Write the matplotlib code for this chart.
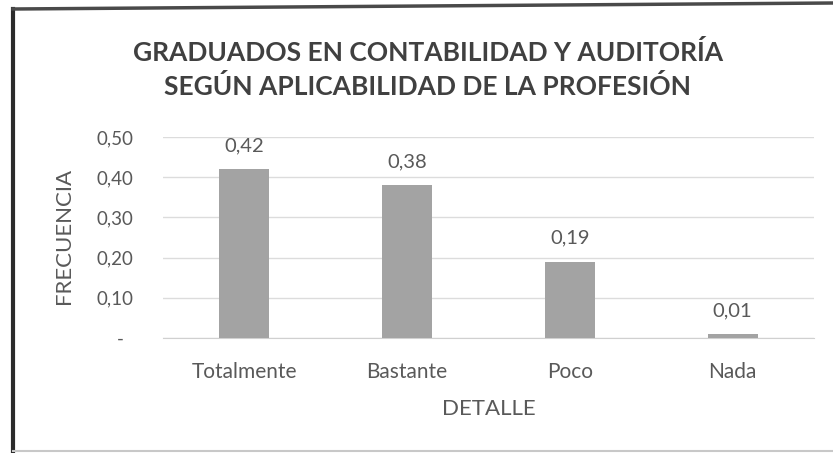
import matplotlib
matplotlib.use('Agg')
import matplotlib.pyplot as plt
from matplotlib.lines import Line2D
from matplotlib.ticker import FixedLocator, FixedFormatter

plt.rcParams['font.family'] = ['Lato', 'DejaVu Sans']

TITLE = 'GRADUADOS EN CONTABILIDAD Y AUDITORÍA\nSEGÚN APLICABILIDAD DE LA PROFESIÓN'
categories = ['Totalmente', 'Bastante', 'Poco', 'Nada']
frecuencia = [0.42, 0.38, 0.19, 0.01]
y_ticks = [0.0, 0.1, 0.2, 0.3, 0.4, 0.5]
y_tick_labels = ['-  ', '0,10', '0,20', '0,30', '0,40', '0,50']

W, H = 833, 453
TEXT = '#595959'

fig = plt.figure(figsize=(W / 100, H / 100), dpi=100)
fig.patch.set_facecolor('white')

# plot area, in pixels of the reference
ax = fig.add_axes([163 / W, 1 - 338 / H, 651 / W, 201 / H])
x = range(len(categories))
bars = ax.bar(x, frecuencia, width=0.307, color='#a3a3a3', zorder=3)

ax.set_xlim(-0.5, len(categories) - 0.5)
ax.set_ylim(0, 0.5)
ax.yaxis.set_major_locator(FixedLocator(y_ticks))
ax.yaxis.set_major_formatter(FixedFormatter(y_tick_labels))
ax.set_xticks(list(x))
ax.set_xticklabels(categories)
ax.tick_params(axis='y', length=0, pad=21.5, labelsize=13.5, labelcolor=TEXT)
ax.tick_params(axis='x', length=0, pad=17, labelsize=15, labelcolor=TEXT)
ax.grid(axis='y', color='#dcdcdc', linewidth=1, zorder=0)
for side in ['top', 'right', 'left']:
    ax.spines[side].set_visible(False)
ax.spines['bottom'].set_color('#d0d0d0')

for rect, v in zip(bars, frecuencia):
    ax.annotate(f'{v:.2f}'.replace('.', ','),
                (rect.get_x() + rect.get_width() / 2, v),
                xytext=(0, 13), textcoords='offset points',
                ha='center', va='baseline', fontsize=14.5, color=TEXT)

ax.set_ylabel('FRECUENCIA', fontsize=16, color=TEXT)
ax.yaxis.set_label_coords(-0.137, 0.51)
ax.set_xlabel('DETALLE', fontsize=16, color=TEXT, va='top')
ax.xaxis.set_label_coords(0.5, -0.305)

# baseline of the second title line
fig.text(428 / W, 1 - 95 / H, TITLE, ha='center', va='baseline',
         fontsize=19, fontweight='bold', color='#404040',
         linespacing=1.45, multialignment='center')

# scanned frame round the chart
fig.add_artist(Line2D([13 / W, 13 / W], [1 - 9 / H, 0], transform=fig.transFigure,
                      color='#2b2b2b', linewidth=3))
fig.add_artist(Line2D([13 / W, 1], [1 - 9 / H, 1 - 3 / H], transform=fig.transFigure,
                      color='#4a4a4a', linewidth=2.5))
fig.add_artist(Line2D([13 / W, 1], [1 - 451 / H, 1 - 451 / H], transform=fig.transFigure,
                      color='#c8c8c8', linewidth=1.5))

fig.savefig('out.png', dpi=100)
